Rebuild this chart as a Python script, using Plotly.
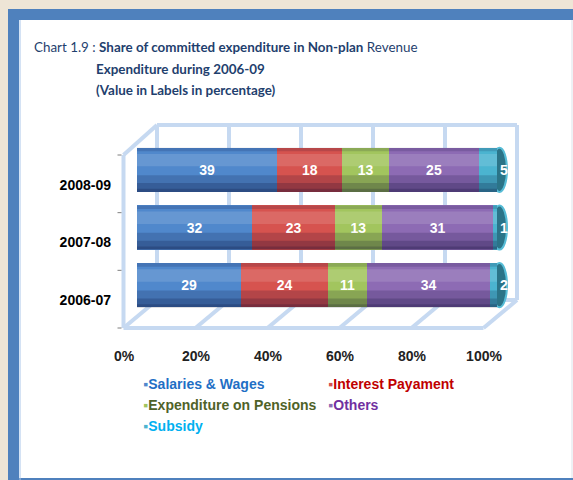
import plotly.graph_objects as go

# ---------------- data ----------------
years = ["2006-07", "2007-08", "2008-09"]
series_names = ["Salaries & Wages", "Interest Payament", "Expenditure on Pensions", "Others", "Subsidy"]
salaries = [29, 32, 39]
interest = [24, 23, 18]
pensions = [11, 13, 13]
others = [34, 31, 25]
subsidy = [2, 1, 5]
x_ticks = [0, 20, 40, 60, 80, 100]
x_ticktext = ["0%", "20%", "40%", "60%", "80%", "100%"]

bar_colors = ["#5088cc", "#d6534f", "#a2c55e", "#8d6bb4", "#4bb4d0"]
legend_text_colors = ["#1f6fc5", "#c00000", "#4f6228", "#7030a0", "#00b0f0"]
series_values = [salaries, interest, pensions, others, subsidy]

# ---------------- geometry (pixels) ----------------
W, H = 573, 480
L, R, T, B = 137, 76, 141, 166
PW, PH = W - L - R, H - T - B
BARGAP = 0.235
FRONT_DX, FRONT_DY = -13.5, -14
BACK_DX, BACK_DY = 20, 14
BACK_TOP = 189
FRONT_TOP = 159
GRID = "#c6d9f1"
XMAX = 100.0


def px(X):
    return (X - L) / PW


def py(Y):
    return (H - B - Y) / PH


fig = go.Figure()

last = len(series_names) - 1
for k, (name, vals, col) in enumerate(zip(series_names, series_values, bar_colors)):
    fig.add_trace(go.Bar(
        y=years, x=vals, name=name, orientation="h",
        marker=dict(color=col, line=dict(width=0)),
        text=vals, texttemplate="%{text}",
        textposition="outside" if k == last else "inside",
        insidetextanchor="middle", cliponaxis=False,
        textfont=dict(color="white", size=14, family="Arial", weight="bold"),
        showlegend=False, hoverinfo="x+name",
    ))

# cylinder shading: translucent bands laid over each row (spanning the row total)
totals = [sum(v[i] for v in series_values) for i in range(len(years))]
half = (1 - BARGAP) / 2
bands = [  # (from, to) as fraction of bar height measured from the bottom, colour
    (0.00, 0.38, "rgba(0,0,40,0.16)"),
    (0.00, 0.20, "rgba(0,0,40,0.18)"),
    (0.00, 0.07, "rgba(0,0,40,0.18)"),
    (0.58, 0.86, "rgba(255,255,255,0.13)"),
    (0.92, 1.00, "rgba(0,0,40,0.14)"),
]
for lo, hi, color in bands:
    xs, ys = [], []
    for i, tot in enumerate(totals):
        y0 = i - half + lo * 2 * half
        y1 = i - half + hi * 2 * half
        xs += [0, tot, tot, 0, 0, None]
        ys += [y0, y0, y1, y1, y0, None]
    fig.add_trace(go.Scatter(
        x=xs, y=ys, yaxis="y2", mode="lines", line=dict(width=0), fill="toself",
        fillcolor=color, showlegend=False, hoverinfo="skip",
    ))

# legend entries: small square glyph + coloured label
for name, col, tcol in zip(series_names, bar_colors, legend_text_colors):
    fig.add_trace(go.Scatter(
        x=[None], y=[None], yaxis="y2", mode="markers",
        marker=dict(symbol="square", size=1, color="rgba(0,0,0,0)"),
        name=f"<span style='color:{col}'>\u25aa</span><span style='color:{tcol}'>{name}</span>",
    ))

shapes = []
# frame background and blue border
shapes.append(dict(type="rect", xref="paper", yref="paper", x0=px(19), x1=px(573), y0=py(480), y1=py(20),
                   fillcolor="white", line=dict(width=0), layer="below"))
shapes.append(dict(type="rect", xref="paper", yref="paper", x0=px(8), x1=px(19), y0=py(480), y1=py(9),
                   fillcolor="#4f81bd", line=dict(width=0), layer="below"))
shapes.append(dict(type="rect", xref="paper", yref="paper", x0=px(8), x1=px(573), y0=py(20), y1=py(9),
                   fillcolor="#4f81bd", line=dict(width=0), layer="below"))
shapes.append(dict(type="rect", xref="paper", yref="paper", x0=px(19), x1=px(573), y0=py(480), y1=py(478),
                   fillcolor="#4f81bd", line=dict(width=0), layer="below"))
shapes.append(dict(type="line", xref="paper", yref="paper", x0=px(20), x1=px(20), y0=py(480), y1=py(20),
                   line=dict(color="#a9c6ea", width=1), layer="below"))
shapes.append(dict(type="line", xref="paper", yref="paper", x0=px(572), x1=px(572), y0=py(478), y1=py(20),
                   line=dict(color="#dde3ea", width=1), layer="below"))


def vx(v):
    """x-axis value -> paper fraction (axis range 0..XMAX over the full domain)"""
    return v / XMAX


def seg(v0, dx0, dy0, v1, dx1, dy1, color=GRID, width=4):
    return dict(type="line", xref="paper", yref="paper", layer="below",
                x0=vx(v0) + dx0 / PW, x1=vx(v1) + dx1 / PW,
                y0=dy0 / PH, y1=dy1 / PH,
                line=dict(color=color, width=width))


vmax = x_ticks[-1]
# back wall
for v in x_ticks:
    shapes.append(seg(v, BACK_DX, BACK_DY, v, BACK_DX, BACK_TOP))
    shapes.append(seg(v, FRONT_DX, FRONT_DY, v, BACK_DX, BACK_DY))
shapes.append(seg(0, BACK_DX, BACK_TOP, vmax, BACK_DX, BACK_TOP))
shapes.append(seg(0, BACK_DX, BACK_DY, vmax, BACK_DX, BACK_DY))
# front edges
shapes.append(seg(0, FRONT_DX, FRONT_DY, vmax, FRONT_DX, FRONT_DY))
shapes.append(seg(0, FRONT_DX, FRONT_DY, 0, FRONT_DX, FRONT_TOP))
shapes.append(seg(0, FRONT_DX, FRONT_TOP, 0, BACK_DX, BACK_TOP))

# front-axis tick marks at category boundaries
n = len(years)
for j in range(n + 1):
    yb = j / n + FRONT_DY / PH
    shapes.append(dict(type="line", xref="paper", yref="paper", layer="above",
                       x0=(FRONT_DX - 6) / PW, x1=(FRONT_DX - 2) / PW, y0=yb, y1=yb,
                       line=dict(color="#7f7f7f", width=1)))

# end caps of the cylinders
for i, tot in enumerate(totals):
    shapes.append(dict(type="circle", xref="paper", yref="y2", layer="below",
                       xsizemode="pixel", xanchor=vx(tot), x0=-5, x1=10,
                       y0=i - half, y1=i + half,
                       fillcolor="#2b7488", line=dict(color="#56bcd6", width=2)))

title_color = "#1f3f6e"
ann = [
    dict(text="Chart 1.9 : <b>Share of committed expenditure in Non-plan</b> Revenue", x=px(32), y=py(47)),
    dict(text="<b>Expenditure during 2006-09</b>", x=px(94), y=py(69)),
    dict(text="<b>(Value in Labels in percentage)</b>", x=px(94), y=py(90)),
]
annotations = [dict(xref="paper", yref="paper", xanchor="left", yanchor="middle", showarrow=False,
                    font=dict(family="Lato", size=13.4, color=title_color), **a) for a in ann]

fig.update_layout(
    width=W, height=H,
    margin=dict(l=L, r=R, t=T, b=B, pad=0),
    paper_bgcolor="#eee5d6", plot_bgcolor="rgba(0,0,0,0)",
    barmode="stack", bargap=BARGAP,
    uniformtext=dict(minsize=14, mode="show"),
    shapes=shapes, annotations=annotations,
    xaxis=dict(type="linear", range=[0, XMAX], tickvals=x_ticks, ticktext=x_ticktext, showgrid=False,
               zeroline=False, showline=False, ticks="", ticklabelshift=-13, ticklabelstandoff=32,
               tickfont=dict(family="Arial", size=14, color="#222222", weight="bold"), fixedrange=True),
    yaxis=dict(type="category", categoryorder="array", categoryarray=years, range=[-0.5, 2.5],
               showgrid=False, zeroline=False, showline=False, ticks="", ticklabelshift=15,
               ticklabelstandoff=25,
               tickfont=dict(family="Arial", size=14, color="black", weight="bold"), fixedrange=True),
    yaxis2=dict(type="linear", overlaying="y", range=[-0.5, 2.5], visible=False, fixedrange=True),
    legend=dict(orientation="h", x=-0.0936, xanchor="left", y=-0.31, yanchor="top",
                entrywidth=140, bgcolor="rgba(0,0,0,0)", traceorder="normal",
                font=dict(family="Arial", size=14, weight="bold"), itemwidth=30,
                tracegroupgap=0),
    showlegend=True,
)

fig.write_html("out.html", post_script="document.body.style.margin='0';",
               config={"displayModeBar": False})
